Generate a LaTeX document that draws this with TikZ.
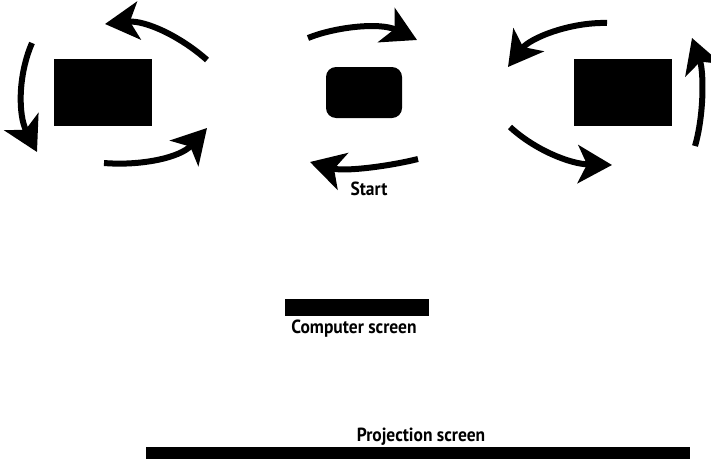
\documentclass[tikz,border=0pt]{standalone}
\usepackage{fontspec}
\setmainfont{PT Sans}[FakeStretch=0.92]
\usetikzlibrary{arrows.meta}
\begin{document}
\begin{tikzpicture}[x=1pt,y=-1pt,
  blk/.style={fill=black,draw=none,inner sep=0pt,outer sep=0pt},
  curvearrow/.style={line width=6pt,-{Stealth[length=34pt,width=38pt,inset=9pt]}},
  lbl/.style={font=\bfseries\fontsize{19}{21}\selectfont,inner sep=0pt,anchor=base}]
\useasboundingbox (0,0) rectangle (711,460);
% desks
\node[blk,minimum width=98pt,minimum height=67pt] (lbox) at (103,92.5) {};
\node[blk,rounded corners=10pt,minimum width=76pt,minimum height=51pt] (mbox) at (364,92.5) {};
\node[blk,minimum width=98pt,minimum height=67pt] (rbox) at (623,92.5) {};
% screens
\node[blk,minimum width=144pt,minimum height=17pt] (cscreen) at (357,307.5) {};
\node[blk,minimum width=544pt,minimum height=12pt] (pscreen) at (418,453) {};
% labels
\node[lbl] (start) at (369,195) {Start};
\node[lbl] (clabel) at (354,333) {Computer screen};
\node[lbl] (plabel) at (421,441) {Projection screen};
% arrow coordinates
\coordinate (l1s) at (207,60);  \coordinate (l1e) at (105,24);
\coordinate (l2s) at (32,43);   \coordinate (l2e) at (37,152);
\coordinate (l3s) at (104,163); \coordinate (l3e) at (207,128);
\coordinate (m1s) at (308,38);  \coordinate (m1e) at (417,40);
\coordinate (m2s) at (418,159); \coordinate (m2e) at (310,162);
\coordinate (r1s) at (607,23);  \coordinate (r1e) at (508,67);
\coordinate (r2s) at (510,127); \coordinate (r2e) at (612,165);
\coordinate (r3s) at (695,146); \coordinate (r3e) at (692,38);
% arrows
\draw[curvearrow] (l1s) .. controls (180,36) and (145,20) .. (l1e);
\draw[curvearrow] (l2s) .. controls (18,75) and (18,115) .. (l2e);
\draw[curvearrow] (l3s) .. controls (140,166) and (180,158) .. (l3e);
\draw[curvearrow] (m1s) .. controls (335,27) and (380,22) .. (m1e);
\draw[curvearrow] (m2s) .. controls (390,166) and (345,172) .. (m2e);
\draw[curvearrow] (r1s) .. controls (570,22) and (530,38) .. (r1e);
\draw[curvearrow] (r2s) .. controls (535,150) and (570,164) .. (r2e);
\draw[curvearrow] (r3s) .. controls (704,115) and (704,72) .. (r3e);
\end{tikzpicture}
\end{document}
